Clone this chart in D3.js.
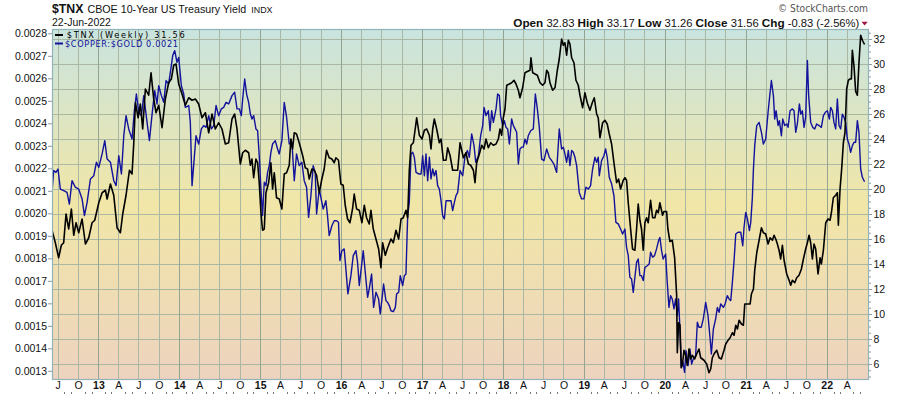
<!DOCTYPE html>
<html><head><meta charset="utf-8">
<script src="https://cdn.jsdelivr.net/npm/d3@7"></script>
<style>body{margin:0;background:#fff;} svg{display:block;font-family:"Liberation Sans",Arial,sans-serif;}</style>
</head><body>
<svg id="c" width="900" height="396"></svg>
<script>
// ---- DATA (decimal-year dates) ----
const tnxDates = [
2012.428,2012.469,2012.510,2012.543,2012.572,2012.601,2012.634,2012.667,2012.696,2012.725,2012.757,2012.799,2012.840,2012.881,2012.922,2012.955,
2013.005,2013.046,2013.087,2013.108,2013.149,2013.190,2013.231,2013.272,2013.301,2013.342,2013.384,2013.416,2013.437,2013.458,2013.491,2013.519,2013.548,2013.581,2013.622,2013.651,2013.684,2013.713,2013.746,2013.787,2013.828,2013.869,2013.902,2013.931,2013.960,2013.993,
2014.034,2014.075,2014.117,2014.158,2014.199,2014.240,2014.281,2014.323,2014.364,2014.405,2014.446,2014.487,2014.528,2014.570,2014.611,2014.652,2014.685,2014.714,2014.755,2014.784,2014.817,2014.858,2014.879,2014.899,2014.920,
2014.948,2014.969,2014.989,2015.010,2015.030,2015.051,2015.072,2015.105,2015.133,2015.154,2015.175,2015.203,2015.236,2015.269,2015.298,2015.327,2015.360,2015.380,2015.401,2015.422,2015.450,2015.483,2015.525,2015.558,2015.586,2015.607,2015.640,2015.669,2015.698,2015.731,2015.763,2015.792,2015.821,2015.854,2015.887,2015.916,2015.937,2015.969,2015.998,
2016.027,2016.052,2016.081,2016.110,2016.142,2016.163,2016.192,2016.225,2016.258,2016.287,2016.315,2016.348,2016.369,2016.398,2016.431,2016.464,2016.492,2016.513,2016.546,2016.575,2016.616,2016.645,2016.678,2016.711,2016.740,2016.768,2016.801,2016.822,2016.842,2016.863,2016.892,2016.917,2016.933,2016.966,2016.999,
2017.028,2017.057,2017.090,2017.110,2017.131,2017.151,2017.180,2017.213,2017.234,2017.263,2017.296,2017.316,2017.345,2017.378,2017.411,2017.440,
2017.469,2017.490,2017.510,2017.543,2017.572,2017.601,2017.634,2017.654,2017.675,2017.708,2017.737,2017.766,2017.790,2017.819,2017.848,2017.881,2017.914,2017.943,2017.963,2017.984,
2018.004,2018.025,2018.046,2018.079,2018.107,2018.136,2018.161,2018.190,2018.210,2018.243,2018.272,2018.301,2018.334,2018.346,2018.367,2018.396,2018.425,2018.458,2018.490,2018.519,2018.540,2018.560,2018.581,2018.614,2018.643,2018.672,2018.696,2018.725,2018.746,2018.766,2018.787,2018.808,2018.828,2018.849,2018.878,2018.902,2018.931,2018.952,2018.985,
2019.013,2019.042,2019.075,2019.104,2019.129,2019.158,2019.178,2019.199,2019.232,2019.260,2019.289,2019.314,2019.343,2019.372,2019.405,2019.429,2019.454,2019.487,2019.508,2019.528,2019.549,2019.578,2019.602,2019.631,2019.652,2019.672,2019.693,2019.713,2019.734,2019.755,2019.776,2019.796,2019.825,2019.850,2019.878,2019.899,2019.920,2019.940,2019.973,
2019.990,2020.023,2020.039,2020.064,2020.093,2020.122,2020.147,2020.155,2020.171,2020.188,2020.204,2020.221,2020.237,2020.258,2020.278,2020.299,2020.319,2020.340,2020.369,2020.394,2020.422,2020.443,2020.464,2020.484,2020.517,2020.546,2020.567,2020.587,2020.608,2020.641,2020.670,2020.698,2020.731,2020.752,2020.781,2020.806,2020.834,2020.855,2020.876,2020.896,2020.917,2020.946,2020.970,2020.987,
2021.020,2021.053,2021.069,2021.094,2021.110,2021.135,2021.164,2021.193,2021.217,2021.246,2021.275,2021.300,2021.329,2021.349,2021.370,2021.390,2021.411,2021.431,2021.452,2021.473,2021.506,2021.535,2021.555,2021.576,2021.605,2021.629,2021.658,2021.687,2021.712,2021.740,2021.761,2021.782,2021.802,2021.823,2021.843,2021.864,2021.893,2021.918,2021.934,2021.959,2021.988,
2022.016,2022.041,2022.058,2022.082,2022.111,2022.132,2022.144,2022.165,2022.185,2022.206,2022.226,2022.247,2022.268,2022.288,2022.305,2022.317,2022.338,2022.358,2022.379,2022.399,2022.420,2022.441,2022.468];
const tnxValues = [
16.7,15.7,14.5,15.5,15.7,18.0,16.8,18.4,16.3,17.3,16.5,17.6,15.6,16.1,17.3,17.5,
18.9,19.7,19.9,19.2,20.4,19.5,16.9,16.5,18.0,19.5,21.5,21.2,23.6,26.9,25.7,26.8,24.8,28.0,27.5,29.3,27.2,26.1,26.7,24.9,27.2,28.5,28.8,29.9,30.0,28.4,
27.6,26.7,27.3,27.1,27.2,26.8,25.7,26.1,24.5,26.0,24.8,25.3,24.8,23.6,23.7,25.6,26.0,24.8,22.0,22.9,23.1,22.9,21.9,22.4,20.9,
22.4,22.1,20.5,18.1,16.7,16.8,19.7,20.5,22.1,20.0,21.3,19.3,19.2,18.4,21.2,21.3,21.9,24.0,23.2,24.5,24.4,23.7,22.7,21.7,21.6,20.8,21.6,21.5,21.1,19.7,20.8,21.6,23.1,22.5,22.4,22.1,22.5,22.3,20.4,
20.3,18.7,17.6,17.3,18.4,19.6,18.4,18.3,17.3,18.7,17.7,17.2,18.3,16.8,16.0,15.2,13.7,15.7,14.7,15.3,16.0,15.7,16.7,16.0,17.6,17.7,18.3,17.7,21.5,23.5,23.7,24.9,25.7,24.3,24.0,
24.7,24.8,24.3,23.2,24.8,25.6,24.8,23.7,24.0,22.3,22.3,23.3,22.7,21.5,21.5,21.5,
23.7,23.1,22.5,22.9,22.0,21.9,21.5,20.5,22.1,22.8,23.5,23.2,24.0,23.3,23.7,23.5,23.6,24.0,24.8,24.3,
25.7,26.4,28.3,28.4,28.5,28.7,28.4,27.9,27.3,28.1,29.3,29.4,29.5,30.5,29.3,29.2,29.1,28.5,28.3,28.5,29.5,29.3,28.5,27.9,28.1,29.5,30.4,32.0,31.5,31.7,30.7,31.9,31.6,30.5,30.1,28.7,28.3,27.5,26.5,
27.7,26.9,26.3,26.9,27.3,26.0,25.7,24.1,25.3,25.5,25.2,24.4,23.6,22.1,20.5,20.8,20.0,20.7,20.9,20.7,18.9,16.8,15.2,15.1,16.8,18.8,17.5,16.8,15.1,17.3,17.7,17.3,19.1,17.7,17.7,18.3,18.1,18.9,17.9,
18.2,18.2,16.8,15.8,15.9,14.5,11.5,6.9,9.3,9.1,5.7,6.1,7.1,6.7,5.9,7.2,6.4,6.7,6.4,6.8,7.2,6.5,6.4,6.3,6.0,5.3,5.6,6.5,6.8,7.1,6.5,6.4,7.1,7.6,7.9,8.1,8.5,8.3,9.1,8.8,9.5,9.2,9.1,10.8,
10.8,10.8,11.6,12.0,13.5,14.9,15.9,16.9,16.5,16.4,15.6,16.1,15.9,16.3,16.0,15.6,15.1,14.4,15.5,14.3,13.2,12.7,12.3,12.7,12.5,12.9,13.1,13.6,14.4,15.2,15.7,16.3,15.7,14.4,15.6,15.2,13.2,14.5,14.0,15.1,17.3,
17.6,17.5,18.1,19.3,19.5,19.7,17.1,20.0,21.6,23.7,24.5,28.0,28.7,28.8,28.8,31.1,29.8,27.8,27.5,30.1,32.3,31.9,31.56];

const cgDates = [
2012.428,2012.449,2012.477,2012.502,2012.531,2012.572,2012.613,2012.642,2012.675,2012.716,2012.757,2012.799,2012.828,2012.861,2012.902,2012.943,2012.976,
2013.005,2013.046,2013.079,2013.108,2013.149,2013.190,2013.219,2013.252,2013.285,2013.314,2013.342,2013.375,2013.416,2013.445,2013.470,2013.499,2013.532,2013.561,2013.602,2013.631,2013.664,2013.697,2013.725,2013.746,2013.779,2013.808,2013.837,2013.869,2013.890,2013.919,2013.944,2013.972,2013.993,
2014.026,2014.055,2014.075,2014.117,2014.137,2014.158,2014.178,2014.207,2014.240,2014.273,2014.302,2014.331,2014.364,2014.397,2014.426,2014.455,2014.487,2014.520,2014.549,2014.578,2014.611,2014.652,2014.685,2014.714,2014.743,2014.767,2014.784,2014.809,2014.833,2014.858,2014.879,2014.899,2014.920,
2014.948,2014.969,2014.989,2015.010,2015.030,2015.051,2015.072,2015.092,2015.113,2015.133,2015.154,2015.187,2015.216,2015.236,2015.269,2015.298,2015.327,2015.360,2015.393,2015.422,2015.450,2015.483,2015.516,2015.545,2015.574,2015.599,2015.628,2015.656,2015.681,2015.698,2015.731,2015.751,2015.780,2015.813,2015.833,2015.854,2015.887,2015.916,2015.945,2015.969,2015.986,
2016.011,2016.039,2016.060,2016.085,2016.122,2016.151,2016.184,2016.204,2016.225,2016.258,2016.274,2016.299,2016.328,2016.348,2016.377,2016.402,2016.431,2016.464,2016.484,2016.505,2016.525,2016.554,2016.575,2016.595,2016.616,2016.645,2016.670,2016.686,2016.711,2016.731,2016.760,2016.781,2016.801,2016.822,2016.842,2016.863,2016.884,2016.904,2016.925,2016.958,2016.987,
2017.007,2017.028,2017.048,2017.069,2017.090,2017.110,2017.131,2017.151,2017.172,2017.192,2017.213,2017.234,2017.254,2017.275,2017.296,2017.329,2017.357,2017.378,2017.399,2017.419,2017.440,
2017.469,2017.502,2017.531,2017.560,2017.584,2017.613,2017.642,2017.663,2017.696,2017.724,2017.749,2017.766,2017.790,2017.819,2017.840,2017.860,2017.881,2017.914,2017.934,2017.955,2017.971,2017.996,
2018.017,2018.037,2018.058,2018.079,2018.107,2018.128,2018.149,2018.169,2018.190,2018.210,2018.231,2018.251,2018.272,2018.293,2018.313,2018.342,2018.375,2018.400,2018.425,2018.449,2018.478,2018.507,2018.540,2018.573,2018.602,2018.630,2018.663,2018.696,2018.725,2018.746,2018.766,2018.787,2018.808,2018.828,2018.849,2018.869,2018.890,2018.911,2018.943,2018.972,
2019.001,2019.026,2019.055,2019.083,2019.108,2019.137,2019.158,2019.178,2019.191,2019.219,2019.248,2019.269,2019.289,2019.314,2019.343,2019.372,2019.396,2019.425,2019.454,2019.479,2019.508,2019.528,2019.549,2019.569,2019.590,2019.611,2019.631,2019.652,2019.672,2019.693,2019.713,2019.734,2019.755,2019.784,2019.808,2019.825,2019.850,2019.874,2019.899,2019.924,2019.940,2019.961,2019.981,
2020.011,2020.031,2020.052,2020.072,2020.093,2020.114,2020.134,2020.155,2020.171,2020.188,2020.204,2020.225,2020.245,2020.262,2020.287,2020.311,2020.332,2020.352,2020.381,2020.402,2020.422,2020.451,2020.476,2020.505,2020.534,2020.558,2020.575,2020.600,2020.628,2020.649,2020.670,2020.690,2020.723,2020.744,2020.772,2020.793,2020.814,2020.834,2020.855,2020.876,2020.904,2020.937,2020.962,2020.978,2020.999,
2021.020,2021.044,2021.061,2021.081,2021.094,2021.110,2021.135,2021.164,2021.193,2021.217,2021.246,2021.275,2021.296,2021.316,2021.341,2021.357,2021.374,2021.399,2021.415,2021.440,2021.456,2021.481,2021.506,2021.522,2021.547,2021.576,2021.596,2021.617,2021.637,2021.662,2021.679,2021.699,2021.720,2021.740,2021.761,2021.777,2021.802,2021.827,2021.852,2021.876,2021.905,2021.934,2021.959,2021.983,
2022.008,2022.033,2022.049,2022.070,2022.090,2022.111,2022.132,2022.152,2022.173,2022.193,2022.214,2022.235,2022.255,2022.276,2022.296,2022.317,2022.338,2022.358,2022.379,2022.399,2022.420,2022.441,2022.468];
const cgValues = [
0.002093,0.002190,0.002182,0.002197,0.002108,0.002101,0.002093,0.002041,0.002145,0.002116,0.002108,0.002064,0.001990,0.002049,0.002153,0.002167,0.002227,
0.002204,0.002264,0.002323,0.002241,0.002227,0.002145,0.002123,0.002256,0.002175,0.002345,0.002434,0.002375,0.002330,0.002456,0.002530,0.002449,0.002434,0.002523,0.002404,0.002323,0.002441,0.002545,0.002486,0.002567,0.002523,0.002493,0.002590,0.002575,0.002627,0.002701,0.002723,0.002671,0.002693,
0.002567,0.002530,0.002471,0.002479,0.002404,0.002123,0.002212,0.002345,0.002308,0.002375,0.002390,0.002382,0.002434,0.002375,0.002390,0.002479,0.002434,0.002464,0.002471,0.002493,0.002486,0.002523,0.002538,0.002464,0.002464,0.002434,0.002508,0.002597,0.002530,0.002493,0.002441,0.002419,0.002434,
0.002375,0.002367,0.002256,0.002108,0.001990,0.002138,0.002123,0.002182,0.002212,0.002271,0.002308,0.002323,0.002286,0.002264,0.002323,0.002493,0.002427,0.002308,0.002316,0.002145,0.002264,0.002212,0.002227,0.002145,0.002116,0.001982,0.002079,0.002212,0.002182,0.001997,0.002108,0.002071,0.002019,0.002056,0.001990,0.001901,0.001945,0.001967,0.001967,0.001960,0.001790,
0.001834,0.001842,0.001753,0.001642,0.001723,0.001812,0.001834,0.001782,0.001679,0.001782,0.001834,0.001738,0.001627,0.001664,0.001730,0.001582,0.001649,0.001619,0.001553,0.001619,0.001686,0.001612,0.001604,0.001590,0.001567,0.001563,0.001582,0.001642,0.001649,0.001723,0.001679,0.001723,0.001730,0.001990,0.002049,0.002264,0.002271,0.002249,0.002182,0.002175,0.002175,
0.002256,0.002167,0.002264,0.002145,0.002249,0.002153,0.002197,0.002167,0.002190,0.002123,0.002108,0.002056,0.001990,0.001975,0.002056,0.002056,0.002056,0.002012,0.002049,0.002079,0.002093,
0.002190,0.002167,0.002256,0.002279,0.002249,0.002353,0.002301,0.002227,0.002256,0.002345,0.002390,0.002471,0.002434,0.002456,0.002367,0.002456,0.002404,0.002464,0.002530,0.002523,0.002434,0.002390,
0.002412,0.002382,0.002375,0.002308,0.002419,0.002390,0.002375,0.002360,0.002219,0.002286,0.002294,0.002294,0.002330,0.002308,0.002345,0.002367,0.002375,0.002530,0.002464,0.002382,0.002241,0.002234,0.002286,0.002249,0.002234,0.002219,0.002182,0.002375,0.002286,0.002294,0.002264,0.002227,0.002279,0.002212,0.002279,0.002271,0.002249,0.002212,0.002093,0.002064,
0.002064,0.002116,0.002108,0.002123,0.002197,0.002249,0.002227,0.002249,0.002167,0.002234,0.002256,0.002286,0.002249,0.002160,0.002131,0.002079,0.001960,0.001953,0.001930,0.001908,0.001930,0.001849,0.001812,0.001716,0.001708,0.001649,0.001716,0.001782,0.001797,0.001723,0.001723,0.001701,0.001760,0.001767,0.001775,0.001827,0.001805,0.001812,0.001842,0.001879,0.001893,0.001834,0.001797,
0.001819,0.001693,0.001582,0.001634,0.001619,0.001575,0.001619,0.001545,0.001619,0.001479,0.001316,0.001338,0.001293,0.001390,0.001323,0.001397,0.001330,0.001353,0.001367,0.001516,0.001494,0.001494,0.001531,0.001604,0.001545,0.001449,0.001375,0.001486,0.001531,0.001582,0.001560,0.001597,0.001582,0.001597,0.001634,0.001619,0.001612,0.001693,0.001790,0.001908,0.001916,0.001916,0.001856,0.001938,0.002004,
0.001975,0.001923,0.001960,0.002071,0.002197,0.002301,0.002390,0.002404,0.002360,0.002308,0.002330,0.002449,0.002523,0.002590,0.002523,0.002419,0.002456,0.002390,0.002412,0.002345,0.002419,0.002390,0.002397,0.002382,0.002456,0.002464,0.002456,0.002360,0.002397,0.002486,0.002441,0.002456,0.002382,0.002427,0.002679,0.002523,0.002404,0.002382,0.002375,0.002397,0.002390,0.002382,0.002434,0.002449,
0.002456,0.002419,0.002471,0.002456,0.002404,0.002375,0.002508,0.002390,0.002375,0.002441,0.002427,0.002404,0.002330,0.002308,0.002271,0.002301,0.002316,0.002316,0.002412,0.002360,0.002197,0.002160,0.002140];

// axis tick values
const cgTicks = [0.0013,0.0014,0.0015,0.0016,0.0017,0.0018,0.0019,0.0020,0.0021,0.0022,0.0023,0.0024,0.0025,0.0026,0.0027,0.0028];
const tnxTicks = [6,8,10,12,14,16,18,20,22,24,26,28,30,32];
const quarterLetters = {3:"A",6:"J",9:"O"};

// ---- LAYOUT ----
const P = {l:52, r:869, t:29, b:380};
function dec(y){const yr=Math.floor(y);const a=Date.UTC(yr,0,1),b=Date.UTC(yr+1,0,1);return new Date(a+(y-yr)*(b-a));}
const svg = d3.select("#c");
const x = d3.scaleUtc().domain([dec(2012.428), dec(2022.523)]).range([P.l,P.r]);
const yR = d3.scaleLinear().domain([4.72, 32.8]).range([P.b,P.t]);
const yL = d3.scaleLinear().domain([0.0012593, 0.0028191]).range([P.b,P.t]);
const lastDate = dec(tnxDates[tnxDates.length-1]);

const defs = svg.append("defs");
const g = defs.append("linearGradient").attr("id","bg").attr("x1",0).attr("y1",0).attr("x2",0).attr("y2",1);
[[0,"#c9e4df"],[0.5,"#f1e6a7"],[1,"#edd3bf"]].forEach(s=>g.append("stop").attr("offset",s[0]).attr("stop-color",s[1]));
defs.append("clipPath").attr("id","clip").append("rect").attr("x",P.l).attr("y",P.t).attr("width",P.r-P.l).attr("height",P.b-P.t);

svg.append("rect").attr("x",P.l).attr("y",P.t).attr("width",P.r-P.l).attr("height",P.b-P.t).attr("fill","url(#bg)");

// grid
const quarters = d3.utcMonth.every(3).range(x.domain()[0], lastDate);
const months = d3.utcMonth.range(x.domain()[0], lastDate);
const grid = svg.append("g").attr("clip-path","url(#clip)");
grid.selectAll("line.h").data(tnxTicks).join("line")
  .attr("x1",P.l).attr("x2",P.r).attr("y1",d=>Math.round(yR(d))+0.5).attr("y2",d=>Math.round(yR(d))+0.5)
  .attr("stroke","#aab7a2").attr("stroke-width",1);
grid.selectAll("line.v").data(quarters).join("line")
  .attr("x1",d=>Math.round(x(d))+0.5).attr("x2",d=>Math.round(x(d))+0.5).attr("y1",P.t).attr("y2",P.b)
  .attr("stroke",d=>d.getUTCMonth()===0?"#95a490":"#aab7a2").attr("stroke-width",1);

// lines
const lineCG = d3.line().x((d,i)=>x(dec(cgDates[i]))).y(d=>yL(d));
const lineTNX = d3.line().x((d,i)=>x(dec(tnxDates[i]))).y(d=>yR(d));
const lines = svg.append("g").attr("clip-path","url(#clip)");
lines.append("path").datum(cgValues).attr("d",lineCG).attr("fill","none").attr("stroke","#12129c").attr("stroke-width",1.4).attr("stroke-linejoin","round");
lines.append("path").datum(tnxValues).attr("d",lineTNX).attr("fill","none").attr("stroke","#000").attr("stroke-width",1.6).attr("stroke-linejoin","round");

// border
svg.append("rect").attr("x",P.l+0.5).attr("y",P.t+0.5).attr("width",P.r-P.l-1).attr("height",P.b-P.t-1)
  .attr("fill","none").attr("stroke","#93b3ba").attr("stroke-width",1.2);

// left axis
const axL = svg.append("g").attr("transform",`translate(${P.l},0)`)
  .call(d3.axisLeft(yL).tickValues(cgTicks).tickFormat(d3.format(".4f")).tickSize(4).tickPadding(1));
axL.select(".domain").remove();
axL.selectAll("line").attr("stroke","#8a9a9e");
axL.selectAll("text").attr("font-size","10.5px").attr("fill","#111").attr("font-family",'"Liberation Sans",Arial,sans-serif');

// right axis
const axRm = svg.append("g").attr("transform",`translate(${P.r},0)`)
  .call(d3.axisRight(yR).tickValues(d3.range(5,33,0.5)).tickFormat("").tickSize(2));
axRm.select(".domain").remove();
axRm.selectAll("line").attr("stroke","#8a9a9e");
const axR = svg.append("g").attr("transform",`translate(${P.r},0)`)
  .call(d3.axisRight(yR).tickValues(tnxTicks).tickSize(3).tickPadding(1.5));
axR.select(".domain").remove();
axR.selectAll("line").attr("stroke","#8a9a9e");
axR.selectAll("text").attr("font-size","10.5px").attr("fill","#111").attr("font-family",'"Liberation Sans",Arial,sans-serif');

// bottom axis
const axB = svg.append("g").attr("transform",`translate(0,${P.b})`)
  .call(d3.axisBottom(x).tickValues(quarters).tickSize(0).tickPadding(2)
    .tickFormat(d=>d.getUTCMonth()===0?d3.utcFormat("%y")(d):quarterLetters[d.getUTCMonth()]));
axB.select(".domain").remove();
axB.selectAll("text").attr("font-size","10.5px").attr("fill","#111").attr("font-family",'"Liberation Sans",Arial,sans-serif')
  .attr("font-weight",d=>d.getUTCMonth()===0?"bold":"normal");
svg.append("g").selectAll("rect").data(months.filter(m=>m.getUTCMonth()%3!==0)).join("rect")
  .attr("x",d=>Math.round(x(d))).attr("y",392).attr("width",1).attr("height",2).attr("fill","#777");

// header
const t1 = svg.append("text").attr("x",52).attr("y",12.7).attr("fill","#111");
t1.append("tspan").attr("font-weight","bold").attr("font-size","12.3px").text("$TNX");
t1.append("tspan").attr("dx",4).attr("font-size","10.7px").text("CBOE 10-Year US Treasury Yield");
t1.append("tspan").attr("dx",5).attr("font-size","8.9px").text("INDX");
svg.append("text").attr("x",52).attr("y",26).attr("font-size","10.5px").attr("fill","#111").text("22-Jun-2022");
svg.append("text").attr("x",868).attr("y",12.3).attr("text-anchor","end").attr("font-size","10.5px").attr("fill","#555")
  .attr("font-family",'"DejaVu Sans",Verdana,sans-serif').attr("textLength",90).attr("lengthAdjust","spacingAndGlyphs").text("© StockCharts.com");
const ohlc = svg.append("text").attr("x",513.3).attr("y",26.5).attr("font-size","10.5px").attr("fill","#111")
  .attr("textLength",346).attr("lengthAdjust","spacingAndGlyphs");
[["Open",true],[" 32.83  ",false],["High",true],[" 33.17  ",false],["Low",true],[" 31.26  ",false],["Close",true],[" 31.56  ",false],["Chg",true],[" -0.83 (-2.56%)",false]]
  .forEach(p=>ohlc.append("tspan").attr("font-weight",p[1]?"bold":"normal").attr("font-size",p[1]?"11px":"10.5px").text(p[0]));
svg.append("path").attr("d","M861.5,21.8 L867.7,21.8 L864.6,25.6 Z").attr("fill","#a3173e");

// legend
const lg = svg.append("g").attr("font-family",'"DejaVu Sans",Verdana,sans-serif').attr("font-size","8.2px");
lg.append("rect").attr("x",55).attr("y",34).attr("width",8).attr("height",2).attr("fill","#000");
lg.append("text").attr("x",66.7).attr("y",37.8).attr("fill","#000").attr("textLength",118).attr("lengthAdjust","spacing").text("$TNX (Weekly) 31.56");
lg.append("rect").attr("x",55).attr("y",42.5).attr("width",8).attr("height",2).attr("fill","#12129c");
lg.append("text").attr("x",65).attr("y",47.3).attr("fill","#12129c").attr("textLength",113).attr("lengthAdjust","spacing").text("$COPPER:$GOLD 0.0021");
</script>
</body></html>
